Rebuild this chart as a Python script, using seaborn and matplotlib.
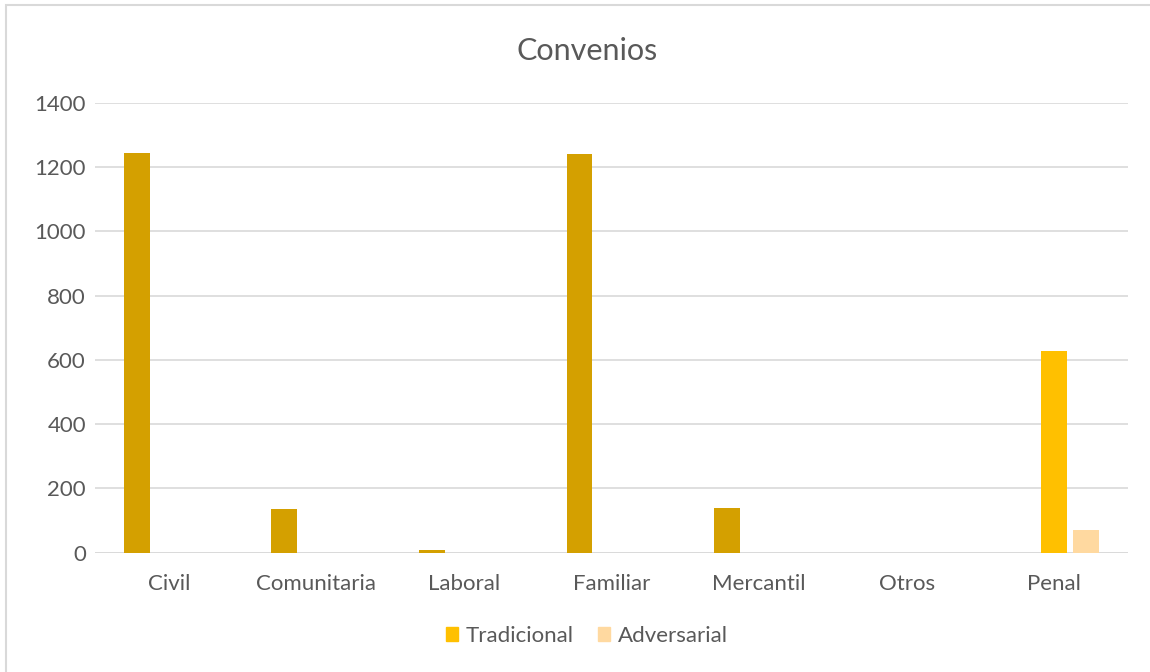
import matplotlib
matplotlib.use("Agg")
import matplotlib.pyplot as plt
from matplotlib.patches import Rectangle, Patch
import pandas as pd
import seaborn as sns

categories = ["Civil", "Comunitaria", "Laboral", "Familiar", "Mercantil", "Otros", "Penal"]
series = ["General", "Tradicional", "Adversarial"]
general = [1242, 135, 8, 1239, 139, 0, 0]
tradicional = [0, 0, 0, 0, 0, 0, 627]
adversarial = [0, 0, 0, 0, 0, 0, 71]
colors = ["#D4A000", "#FFC000", "#FFD9A0"]

df = pd.DataFrame({
    "Categoria": categories * 3,
    "Serie": [s for s in series for _ in categories],
    "Valor": general + tradicional + adversarial,
})

sns.set_theme(style="white")
plt.rcParams["font.family"] = ["Lato", "DejaVu Sans"]
text_color = "#595959"
grid_color = "#D9D9D9"

fig = plt.figure(figsize=(11.5, 6.72), dpi=100)
ax = fig.add_axes([95 / 1150, 1 - 552.7 / 672, (1128 - 95) / 1150, (552.7 - 102.7) / 672])

sns.barplot(data=df, x="Categoria", y="Valor", hue="Serie", hue_order=series,
            order=categories, palette=colors, saturation=1, width=0.65, gap=0.19,
            linewidth=0, ax=ax, legend=False)

ax.set_ylim(0, 1400)
ax.set_xlim(-0.5, len(categories) - 0.5)
ax.set_yticks(range(0, 1401, 200))
ax.yaxis.grid(True, color=grid_color, linewidth=1.2)
ax.set_axisbelow(True)
for s in ax.spines.values():
    s.set_visible(False)
ax.axhline(0, color=grid_color, linewidth=1.2, zorder=0.5)
ax.tick_params(axis="both", length=0, labelsize=16, labelcolor=text_color)
ax.tick_params(axis="y", pad=6.5)
ax.tick_params(axis="x", pad=15)
ax.set_xlabel("")
ax.set_ylabel("")

# chart area continues past the right edge, so its centre is at ~587 px
center_x = 587 / 1150
fig.text(center_x, 1 - 51 / 672, "Convenios", ha="center", va="center",
         fontsize=22, color=text_color)

handles = [Patch(color=colors[1]), Patch(color=colors[2])]
fig.legend(handles, ["Tradicional", "Adversarial"], loc="center",
           bbox_to_anchor=(center_x, 1 - 636 / 672), ncol=2, frameon=False,
           fontsize=16, labelcolor=text_color, handlelength=0.55,
           handleheight=0.55, handletextpad=0.35, columnspacing=1.1)

fig.patches.append(Rectangle((5.5 / 1150, -0.1), 1.2, 1 - 4.5 / 672 + 0.1,
                             transform=fig.transFigure, fill=False,
                             edgecolor=grid_color, linewidth=1.5))

fig.savefig("out.png", dpi=100)
